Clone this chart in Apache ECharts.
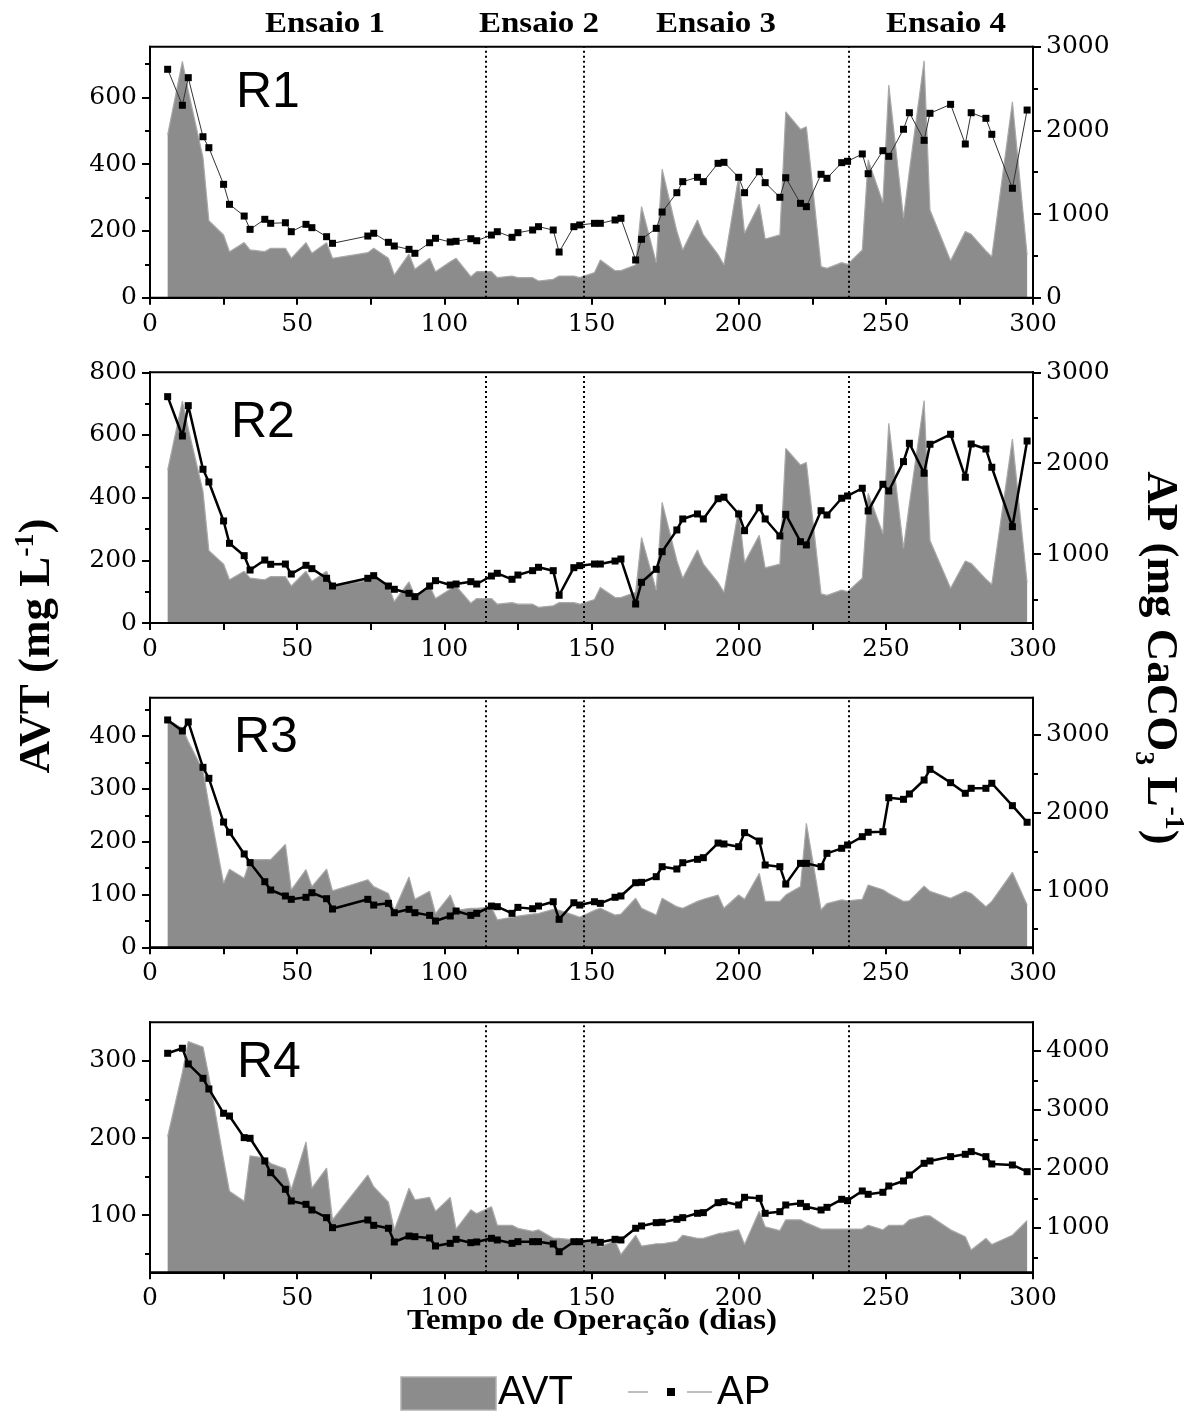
<!DOCTYPE html>
<html><head><meta charset="utf-8">
<script src="https://cdn.jsdelivr.net/npm/echarts@6/dist/echarts.min.js"></script>
<style>html,body{margin:0;padding:0;background:#fff;}#c{width:1196px;height:1411px;}</style>
</head><body><div id="c"></div>
<script>
// ---- data ----
const days = [6,11,13,18,20,25,27,32,34,39,41,46,48,53,55,60,62,74,76,81,83,88,90,95,97,102,104,109,111,116,118,123,125,130,132,137,139,144,146,151,
  153,158,160,165,167,172,174,179,181,186,188,193,195,200,202,207,209,214,216,221,223,228,230,235,237,242,244,249,251,256,258,263,265,272,277,279,284,286,293,298];

const r1Ap = [2730,2300,2630,1924,1793,1355,1116,976,817,937,889,896,789,877,837,729,650,737,770,662,618,578,531,657,710,666,674,705,681,749,789,722,777,809,849,809,546,849,869,889,
  889,929,949,451,698,829,1024,1255,1387,1439,1387,1606,1618,1439,1255,1506,1375,1200,1434,1128,1088,1475,1427,1614,1630,1718,1482,1757,1690,2013,2211,1881,2204,2311,1837,2211,2144,1953,1308,2243];
const r1Avt = [488,708,620,420,231,188,138,165,143,138,148,148,118,165,133,165,118,135,148,118,68,131,85,118,78,108,118,63,78,78,60,65,60,60,50,55,65,65,60,75,
  113,81,81,98,273,105,385,199,143,233,188,129,98,363,193,280,176,188,557,504,512,93,88,105,100,143,413,285,637,238,380,710,263,111,198,190,140,123,587,128];

const r2Ap = [2732,2299,2633,1933,1793,1364,1118,982,824,934,887,890,780,876,839,733,648,733,762,648,612,568,531,648,707,659,670,696,670,758,788,722,769,817,854,817,546,850,872,890,
  890,923,945,450,689,832,1026,1265,1386,1441,1386,1609,1625,1441,1257,1510,1386,1199,1437,1136,1100,1477,1430,1614,1639,1724,1474,1768,1694,2017,2219,1889,2208,2318,1845,2211,2156,1955,1301,2244];
const r2Avt = [488,708,620,420,231,188,138,165,143,138,148,148,118,165,133,165,118,135,148,118,68,131,85,118,78,108,118,63,78,78,60,65,60,60,50,55,65,65,60,75,
  113,81,81,98,273,105,385,199,143,233,188,129,98,363,193,280,176,188,557,504,512,93,88,105,100,143,413,285,637,238,380,710,263,111,198,190,140,123,587,128];

const r3Ap = [3194,3052,3168,2583,2441,1877,1745,1465,1353,1107,1000,923,880,906,965,888,755,880,806,828,707,751,707,673,600,665,729,673,699,793,785,699,776,759,793,849,622,836,806,849,
  828,906,923,1094,1099,1172,1301,1271,1352,1396,1417,1606,1594,1559,1740,1632,1323,1301,1077,1344,1344,1301,1473,1538,1581,1688,1745,1752,2191,2170,2239,2419,2557,2385,2248,2312,2312,2377,2088,1874];
const r3Avt = [431,415,390,335,270,121,148,131,166,166,166,195,109,147,115,148,107,128,115,102,70,133,91,106,64,99,70,74,74,76,52,57,59,63,64,72,70,61,57,70,
  74,61,63,93,74,61,93,77,74,87,91,99,74,99,91,140,87,87,99,115,235,71,83,90,88,91,118,109,102,87,88,116,106,93,106,102,77,87,142,80];

const r4Ap = [3961,4046,3780,3537,3356,2944,2898,2531,2520,2136,1937,1656,1458,1401,1305,1175,1005,1136,1045,995,763,864,853,831,695,740,808,751,763,825,797,740,768,768,768,729,598,768,768,797,
  757,808,797,995,1034,1090,1097,1147,1175,1249,1260,1429,1446,1390,1520,1503,1249,1277,1390,1418,1361,1305,1350,1486,1463,1627,1571,1605,1712,1797,1898,2096,2136,2209,2249,2294,2209,2085,2068,1954];
const r4Avt = [202,285,325,318,280,172,131,118,177,174,167,160,133,195,135,161,94,152,137,117,81,135,120,123,105,123,82,107,102,111,87,87,83,79,81,70,70,68,66,66,
  59,67,49,74,60,63,63,66,74,70,70,76,77,81,62,105,85,80,94,94,90,82,82,82,82,82,87,81,87,87,94,99,99,81,72,55,70,62,74,93];

const phaseBounds = [114, 147.5, 237.5];
const phaseNames = ['Ensaio 1', 'Ensaio 2', 'Ensaio 3', 'Ensaio 4'];
const panelNames = ['R1', 'R2', 'R3', 'R4'];

const r1LeftTicks = [0,200,400,600],  r1LeftMinor = [100,300,500,700];
const r1RightTicks = [0,1000,2000,3000], r1RightMinor = [500,1500,2500];
const r2LeftTicks = [0,200,400,600,800], r2LeftMinor = [100,300,500,700];
const r2RightTicks = [1000,2000,3000], r2RightMinor = [500,1500,2500];
const r3LeftTicks = [0,100,200,300,400], r3LeftMinor = [50,150,250,350,450];
const r3RightTicks = [1000,2000,3000], r3RightMinor = [500,1500,2500];
const r4LeftTicks = [100,200,300], r4LeftMinor = [50,150,250];
const r4RightTicks = [1000,2000,3000,4000], r4RightMinor = [500,1500,2500,3500];

// ---- layout ----
const panels = [
  {name:panelNames[0], avt:r1Avt, ap:r1Ap, top:46.7, h:251, lMin:0, lMax:752, lT:r1LeftTicks, lM:r1LeftMinor, rMin:0, rMax:3000, rT:r1RightTicks, rM:r1RightMinor, lw:1, lc:'#333', lblY:93.3, lblX:236},
  {name:panelNames[1], avt:r2Avt, ap:r2Ap, top:372.3, h:250.7, lMin:0, lMax:800, lT:r2LeftTicks, lM:r2LeftMinor, rMin:241, rMax:3000, rT:r2RightTicks, rM:r2RightMinor, lw:2.5, lc:'#000', lblY:423.7, lblX:231},
  {name:panelNames[2], avt:r3Avt, ap:r3Ap, top:697.7, h:249.6, lMin:0, lMax:473, lT:r3LeftTicks, lM:r3LeftMinor, rMin:261, rMax:3481, rT:r3RightTicks, rM:r3RightMinor, lw:2.5, lc:'#000', lblY:738.3, lblX:234},
  {name:panelNames[3], avt:r4Avt, ap:r4Ap, top:1022.3, h:250, lMin:26, lMax:350, lT:r4LeftTicks, lM:r4LeftMinor, rMin:249, rMax:4486, rT:r4RightTicks, rM:r4RightMinor, lw:2.5, lc:'#000', lblY:1063.3, lblX:237}
];

const numFont = {fontFamily:'DejaVu Serif', fontSize:25, color:'#000'};
const grids = [], xAxes = [], yAxes = [], series = [];
const graphics = [];

panels.forEach((p, i) => {
  grids.push({left:150, width:883, top:p.top, height:p.h, show:true, borderColor:'#000', borderWidth:2, backgroundColor:'transparent', z:8});
  xAxes.push({gridIndex:i, type:'value', min:0, max:300, interval:25, z:8,
    axisLine:{show:true, onZero:false, lineStyle:{color:'#000', width:2}},
    axisTick:{show:true, length:7, lineStyle:{color:'#000', width:2}},
    axisLabel:Object.assign({margin:14, formatter:v => (v % 50 === 0 ? String(v) : '')}, numFont),
    splitLine:{show:false}});
  const mkY = (pos, min, max, vals, len, labels) => ({
    gridIndex:i, type:'value', position:pos, min:min, max:max, z:8,
    axisLine:{show:true, onZero:false, lineStyle:{color:'#000', width:2}},
    axisTick:{show:true, length:len, customValues:vals, lineStyle:{color:'#000', width:2}},
    axisLabel: labels ? Object.assign({margin:13, customValues:vals, formatter:v => String(v)}, numFont) : {show:false},
    splitLine:{show:false}
  });
  yAxes.push(mkY('left', p.lMin, p.lMax, p.lT, 8, true));
  yAxes.push(mkY('left', p.lMin, p.lMax, p.lM, 5, false));
  yAxes.push(mkY('right', p.rMin, p.rMax, p.rT, 8, true));
  yAxes.push(mkY('right', p.rMin, p.rMax, p.rM, 5, false));

  series.push({type:'line', name:'AVT', xAxisIndex:i, yAxisIndex:4*i, data:days.map((d,k)=>[d, p.avt[k]]),
    symbol:'none', showSymbol:false, lineStyle:{color:'#a9a9a9', width:1.2},
    areaStyle:{color:'#8c8c8c', opacity:1, origin:'start'}, z:2, silent:true});
  series.push({type:'line', name:'AP', xAxisIndex:i, yAxisIndex:4*i+2, data:days.map((d,k)=>[d, p.ap[k]]),
    symbol:'rect', symbolSize:7, itemStyle:{color:'#000'}, lineStyle:{color:p.lc, width:p.lw}, z:5, silent:true,
    markLine:{symbol:'none', silent:true, label:{show:false}, animation:false,
      lineStyle:{type:[2,3], color:'#000', width:2}, data:phaseBounds.map(v => ({xAxis:v}))}});

  graphics.push({type:'text', x:p.lblX, y:p.lblY, style:{text:p.name, fill:'#000', font:'50px "Liberation Sans"', align:'left', verticalAlign:'middle'}});
});

// Ensaio labels
const ensaioX = [325, 539, 716, 946];
phaseNames.forEach((t, k) => {
  graphics.push({type:'text', x:ensaioX[k], y:24, scaleX:1.1, style:{text:t, fill:'#000', font:'bold 30px "Liberation Serif"', align:'center', verticalAlign:'middle'}});
});
// x title
graphics.push({type:'text', x:592, y:1321, scaleX:1.1, style:{text:'Tempo de Operação (dias)', fill:'#000', font:'bold 30px "Liberation Serif"', align:'center', verticalAlign:'middle'}});

// y titles
const nStyle = {fontFamily:'Liberation Serif', fontWeight:'bold', fontSize:45, verticalAlign:'bottom'};
graphics.push({type:'text', x:36, y:646, rotation:Math.PI/2, style:{
  text:'{n|AVT (mg L}{s|-1}{n|)}', fill:'#000', align:'center', verticalAlign:'middle',
  rich:{n:Object.assign({}, nStyle, {padding:[0,0,0,0]}), s:Object.assign({}, nStyle, {fontSize:28, padding:[0,0,20,0]})}
}});
graphics.push({type:'text', x:1158, y:658, rotation:-Math.PI/2, style:{
  text:'{n|AP (mg CaCO}{b|3}{n| L}{s|-1}{n|)}', fill:'#000', align:'center', verticalAlign:'middle',
  rich:{n:Object.assign({}, nStyle, {padding:[0,0,8,0]}), b:Object.assign({}, nStyle, {fontSize:28, padding:[0,0,0,0]}), s:Object.assign({}, nStyle, {fontSize:28, padding:[0,0,30,0]})}
}});

// legend
graphics.push({type:'rect', shape:{x:401, y:1377, width:95, height:33}, style:{fill:'#8c8c8c', stroke:'#b0b0b0', lineWidth:1.5}});
graphics.push({type:'text', x:498, y:1392.5, style:{text:'AVT', fill:'#000', font:'40px "Liberation Sans"', align:'left', verticalAlign:'middle'}});
graphics.push({type:'line', shape:{x1:628, y1:1392, x2:648, y2:1392}, style:{stroke:'#aaaaaa', lineWidth:1.5}});
graphics.push({type:'line', shape:{x1:687, y1:1392, x2:712, y2:1392}, style:{stroke:'#aaaaaa', lineWidth:1.5}});
graphics.push({type:'rect', shape:{x:667, y:1388, width:8, height:8}, style:{fill:'#000'}});
graphics.push({type:'text', x:717, y:1392.5, style:{text:'AP', fill:'#000', font:'40px "Liberation Sans"', align:'left', verticalAlign:'middle'}});

const chart = echarts.init(document.getElementById('c'), null, {renderer:'canvas'});
chart.setOption({
  animation:false,
  backgroundColor:'#fff',
  grid:grids, xAxis:xAxes, yAxis:yAxes, series:series,
  graphic:{elements:graphics}
});
</script></body></html>
